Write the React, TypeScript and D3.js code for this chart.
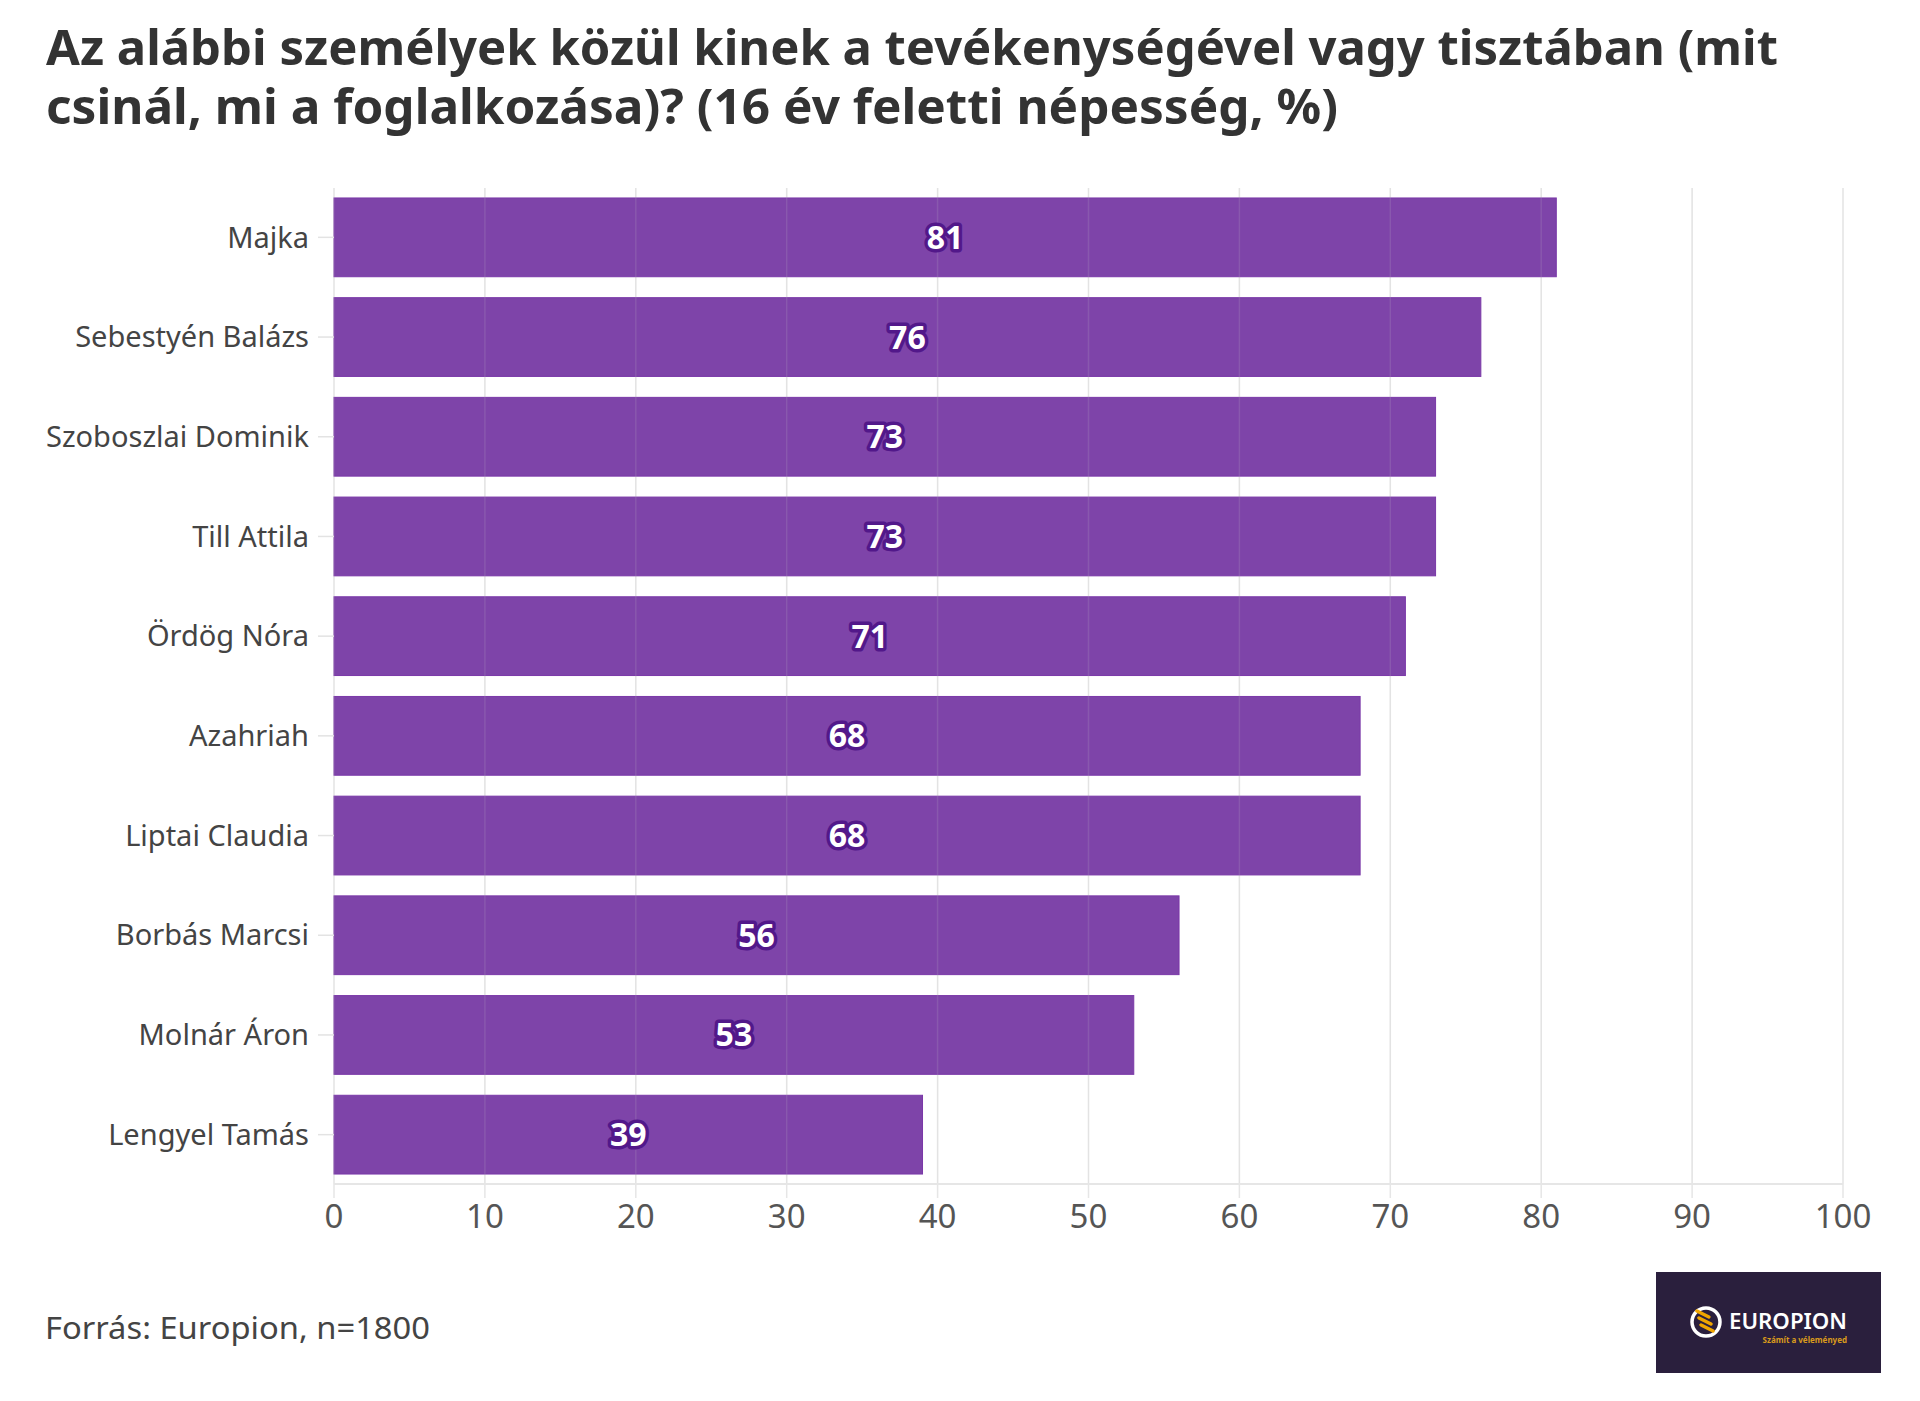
import { useEffect, useRef } from "react";
import * as d3 from "d3";

const titleLines = [
  "Az alábbi személyek közül kinek a tevékenységével vagy tisztában (mit",
  "csinál, mi a foglalkozása)? (16 év feletti népesség, %)",
];
const people = [
  "Majka",
  "Sebestyén Balázs",
  "Szoboszlai Dominik",
  "Till Attila",
  "Ördög Nóra",
  "Azahriah",
  "Liptai Claudia",
  "Borbás Marcsi",
  "Molnár Áron",
  "Lengyel Tamás",
];
const shares = [81, 76, 73, 73, 71, 68, 68, 56, 53, 39];
const xTicks = [0, 10, 20, 30, 40, 50, 60, 70, 80, 90, 100];
const sourceNote = "Forrás: Europion, n=1800";

export default function App() {
  const ref = useRef<SVGSVGElement | null>(null);

  useEffect(() => {
    if (!ref.current) return;

    const width = 1920;
    const height = 1401;
    const plot = { left: 334, right: 1843, top: 188, bottom: 1184 };
    const font = "'Noto Sans', 'Open Sans', sans-serif";

    const svg = d3.select(ref.current);
    svg.selectAll("*").remove();
    svg.attr("viewBox", `0 0 ${width} ${height}`);

    svg.append("rect").attr("width", width).attr("height", height).attr("fill", "#fff");

    // title, stretched to the reference's line widths
    const titleWidths = [1732, 1292];
    svg
      .append("g")
      .selectAll("text")
      .data(titleLines)
      .join("text")
      .attr("x", 46)
      .attr("y", (_, i) => 65 + i * 59)
      .attr("font-family", font)
      .attr("font-size", 48)
      .attr("font-weight", 700)
      .attr("fill", "#333")
      .attr("textLength", (_, i) => titleWidths[i])
      .attr("lengthAdjust", "spacingAndGlyphs")
      .text((d) => d);

    const x = d3.scaleLinear().domain([0, 100]).range([plot.left, plot.right]);
    const y = d3
      .scaleBand<string>()
      .domain(people)
      .range([plot.top, plot.bottom])
      .paddingInner(0.21)
      .paddingOuter(0.1);

    // gridlines under the bars
    const grid = svg.append("g");
    grid
      .selectAll("line")
      .data(xTicks)
      .join("line")
      .attr("x1", (d) => x(d))
      .attr("x2", (d) => x(d))
      .attr("y1", plot.top)
      .attr("y2", plot.bottom + 14)
      .attr("stroke", "#e6e6e6")
      .attr("stroke-width", 1.5);

    // bars
    svg
      .append("g")
      .selectAll("rect")
      .data(people)
      .join("rect")
      .attr("x", x(0))
      .attr("y", (d) => y(d) ?? 0)
      .attr("width", (_, i) => x(shares[i]) - x(0))
      .attr("height", y.bandwidth())
      .attr("fill", "#7030a0")
      .attr("fill-opacity", 0.9)
      .attr("stroke", "#7a38a8")
      .attr("stroke-width", 1);

    // faint gridlines showing through the bars
    svg
      .append("g")
      .selectAll("line")
      .data(xTicks)
      .join("line")
      .attr("x1", (d) => x(d))
      .attr("x2", (d) => x(d))
      .attr("y1", plot.top)
      .attr("y2", plot.bottom)
      .attr("stroke", "#d9d9d9")
      .attr("stroke-opacity", 0.15)
      .attr("stroke-width", 1.5);

    svg
      .append("line")
      .attr("x1", x(0))
      .attr("x2", x(100))
      .attr("y1", plot.bottom)
      .attr("y2", plot.bottom)
      .attr("stroke", "#e6e6e6")
      .attr("stroke-width", 2);

    // x tick labels
    svg
      .append("g")
      .selectAll("text")
      .data(xTicks)
      .join("text")
      .attr("x", (d) => x(d))
      .attr("y", 1228)
      .attr("text-anchor", "middle")
      .attr("font-family", font)
      .attr("font-size", 33)
      .attr("fill", "#555")
      .text((d) => d);

    // y ticks and labels
    const yAxis = svg.append("g");
    yAxis
      .selectAll("line")
      .data(people)
      .join("line")
      .attr("x1", 318)
      .attr("x2", x(0))
      .attr("y1", (d) => (y(d) ?? 0) + y.bandwidth() / 2)
      .attr("y2", (d) => (y(d) ?? 0) + y.bandwidth() / 2)
      .attr("stroke", "#e3e3e3")
      .attr("stroke-width", 1.5);
    yAxis
      .selectAll("text")
      .data(people)
      .join("text")
      .attr("x", 309)
      .attr("y", (d) => (y(d) ?? 0) + y.bandwidth() / 2)
      .attr("dy", "0.35em")
      .attr("text-anchor", "end")
      .attr("font-family", font)
      .attr("font-size", 29)
      .attr("fill", "#444")
      .text((d) => d);

    // value labels with a dark halo
    svg
      .append("g")
      .selectAll("text")
      .data(people)
      .join("text")
      .attr("x", (_, i) => x(shares[i] / 2))
      .attr("y", (d) => (y(d) ?? 0) + y.bandwidth() / 2)
      .attr("dy", "0.36em")
      .attr("text-anchor", "middle")
      .attr("font-family", font)
      .attr("font-size", 32)
      .attr("font-weight", 700)
      .attr("fill", "#fff")
      .attr("stroke", "#52188a")
      .attr("stroke-width", 7)
      .attr("stroke-linejoin", "round")
      .attr("paint-order", "stroke")
      .text((_, i) => shares[i]);

    // source note
    svg
      .append("text")
      .attr("x", 45)
      .attr("y", 1339)
      .attr("font-family", font)
      .attr("font-size", 31)
      .attr("fill", "#444")
      .attr("textLength", 385)
      .attr("lengthAdjust", "spacingAndGlyphs")
      .text(sourceNote);

    // logo
    const logo = svg.append("g").attr("transform", "translate(1656,1272)");
    logo.append("rect").attr("width", 225).attr("height", 101).attr("fill", "#2a1f3d");
    logo
      .append("circle")
      .attr("cx", 50)
      .attr("cy", 50)
      .attr("r", 14)
      .attr("fill", "none")
      .attr("stroke", "#fff")
      .attr("stroke-width", 3.5);
    logo
      .append("g")
      .selectAll("line")
      .data([-7, 0, 7])
      .join("line")
      .attr("x1", (d) => 43 + d * 0.3)
      .attr("y1", (d) => 46 + d)
      .attr("x2", (d) => 55 + d * 0.3)
      .attr("y2", (d) => 52 + d)
      .attr("stroke", "#f0a500")
      .attr("stroke-width", 3.5)
      .attr("stroke-linecap", "round");
    logo
      .append("text")
      .attr("x", 73)
      .attr("y", 57)
      .attr("font-family", font)
      .attr("font-size", 21)
      .attr("font-weight", 600)
      .attr("fill", "#fff")
      .attr("textLength", 118)
      .attr("lengthAdjust", "spacingAndGlyphs")
      .text("EUROPION");
    logo
      .append("text")
      .attr("x", 191)
      .attr("y", 71)
      .attr("text-anchor", "end")
      .attr("font-family", font)
      .attr("font-size", 8)
      .attr("font-weight", 700)
      .attr("fill", "#d99a1c")
      .text("Számít a véleményed");
  }, []);

  return (
    <svg
      ref={ref}
      width={1920}
      height={1401}
      style={{ position: "absolute", left: 0, top: 0 }}
      role="img"
      aria-label="Bar chart"
    />
  );
}
